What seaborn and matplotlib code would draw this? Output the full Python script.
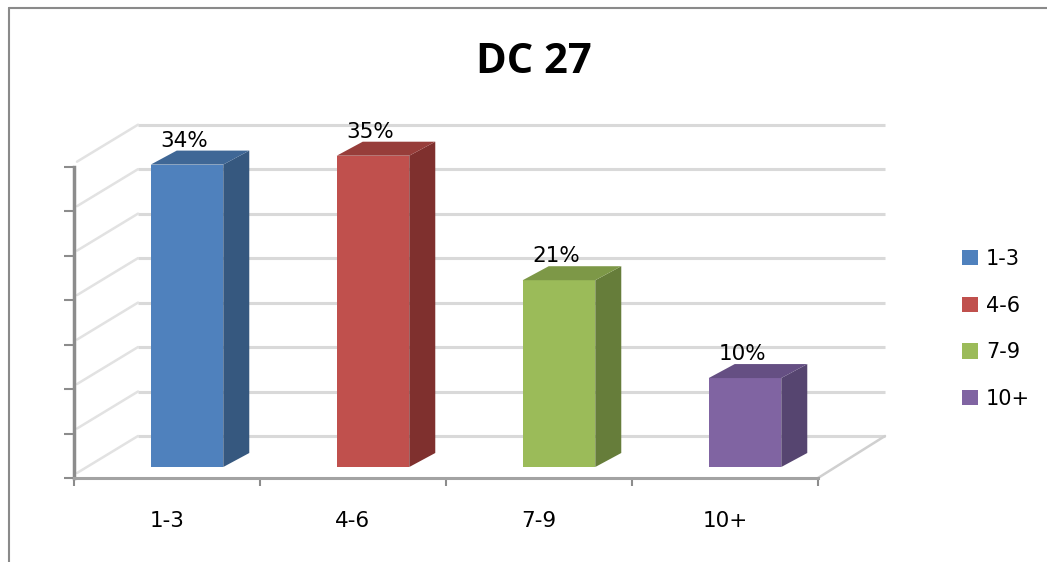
import pandas as pd
import matplotlib
matplotlib.use("Agg")
import matplotlib.pyplot as plt
import matplotlib.transforms as mtransforms
from matplotlib.patches import Polygon, Patch
from matplotlib.lines import Line2D
import seaborn as sns


# Chart data
categories = ["1-3", "4-6", "7-9", "10+"]
shares = [34, 35, 21, 10]
y_ticks = [0, 5, 10, 15, 20, 25, 30, 35]
front_colors = ["#4F81BD", "#C0504D", "#9BBB59", "#8064A2"]
side_colors = ["#36587F", "#7F302E", "#667D3A", "#564570"]
top_colors = ["#3F6796", "#973D3A", "#7D9847", "#654F83"]
title = "DC 27"


sns.set_theme(style="white")
plt.rcParams["font.family"] = ["DejaVu Sans"]
plt.rcParams["text.color"] = "black"
plt.rcParams["xtick.labelcolor"] = "black"

W, H = 1047, 562
fig = plt.figure(figsize=(W / 100, H / 100), dpi=100)

# front plane of the pseudo 3D box, in pixels
x0, x1, y0, y1 = 74, 818, 478, 166.7
ax = fig.add_axes([x0 / W, 1 - y0 / H, (x1 - x0) / W, (y0 - y1) / H])

df = pd.DataFrame({"size": categories, "share": shares})
sns.barplot(data=df, x="size", y="share", hue="size", palette=front_colors,
            saturation=1, width=0.39, legend=False, ax=ax, zorder=3)

ax.set_xlim(-0.5, 3.5)
ax.set_ylim(0, 35)
px_x = (x1 - x0) / 4
px_y = (y0 - y1) / 35


def shifted(dx, dy):
    return ax.transData + mtransforms.ScaledTranslation(dx / 100, dy / 100, fig.dpi_scale_trans)


# back wall and floor
wall_dx, wall_dy = 64 / px_x, 42 / px_y
x_end = -0.5 + (885 - x0) / px_x
grid_col = "#d9d9d9"
for t in y_ticks:
    ax.plot([-0.5 + wall_dx, x_end], [t + wall_dy, t + wall_dy], color=grid_col,
            lw=2.2, clip_on=False, zorder=1, solid_capstyle="butt")
    ax.plot([-0.5 + 3 / px_x, -0.5 + wall_dx], [t + 5 / px_y, t + wall_dy],
            color="#e2e2e2", lw=1.8, clip_on=False, zorder=1)
ax.plot([3.5, x_end], [0, wall_dy], color="#d0d0d0", lw=1.8, clip_on=False, zorder=1)

# bars: front faces from seaborn, side and top faces added
bar_tr = shifted(20, 11)
ddx, ddy = 26 / px_x, 14 / px_y
for i, p in enumerate(ax.patches):
    p.set_transform(bar_tr)
    p.set_linewidth(0)
    p.set_clip_on(False)
    bx, bw, h = p.get_x(), p.get_width(), p.get_height()
    side = Polygon([(bx + bw, 0), (bx + bw, h), (bx + bw + ddx, h + ddy), (bx + bw + ddx, ddy)],
                   closed=True, facecolor=side_colors[i], edgecolor="none",
                   transform=bar_tr, zorder=3, clip_on=False)
    top = Polygon([(bx, h), (bx + bw, h), (bx + bw + ddx, h + ddy), (bx + ddx, h + ddy)],
                  closed=True, facecolor=top_colors[i], edgecolor="none",
                  transform=bar_tr, zorder=3, clip_on=False)
    ax.add_patch(side)
    ax.add_patch(top)
    ax.text(bx + bw / 2 - 3 / px_x, h + 18 / px_y, f"{shares[i]}%", transform=bar_tr,
            ha="center", va="baseline", fontsize=15.5, color="black", zorder=5)

# axes styling
for s in ["top", "right"]:
    ax.spines[s].set_visible(False)
ax.spines["left"].set_color("#8c8c8c")
ax.spines["left"].set_linewidth(2.5)
ax.spines["bottom"].set_color("#a3a3a3")
ax.spines["bottom"].set_linewidth(2.2)
ax.set_yticks(y_ticks)
ax.set_yticklabels([])
ax.tick_params(axis="y", left=True, length=7, width=1.5, color="#8c8c8c", direction="out")
ax.set_xticks(range(len(categories)))
ax.set_xticklabels(categories, fontsize=15.5, color="black")
ax.set_xticks([-0.5, 0.5, 1.5, 2.5, 3.5], minor=True)
ax.tick_params(axis="x", which="major", length=0, pad=24)
ax.tick_params(axis="x", which="minor", bottom=True, length=6, width=1.5,
               color="#8c8c8c", direction="out")
ax.set_xlabel("")
ax.set_ylabel("")
ax.patch.set_alpha(0)

# legend
handles = [Patch(facecolor=c, edgecolor="none", label=l) for c, l in zip(front_colors, categories)]
fig.legend(handles=handles, loc="center left", bbox_to_anchor=(962 / W, 1 - 329 / H),
           frameon=False, fontsize=15, handlelength=0.75, handleheight=0.75,
           handletextpad=0.4, labelspacing=1.28, borderpad=0, borderaxespad=0,
           labelcolor="black")

# title and chart frame
fig.text(533.5 / W, 1 - 73 / H, title, ha="center", va="baseline", fontsize=30,
         fontweight="bold", family="Open Sans", color="black")
fig.add_artist(Line2D([9 / W, 9 / W], [0, 1 - 8 / H], transform=fig.transFigure,
                      color="#8a8a8a", lw=1.5))
fig.add_artist(Line2D([9 / W, 1], [1 - 8 / H, 1 - 8 / H], transform=fig.transFigure,
                      color="#8a8a8a", lw=1.5))

fig.savefig("out.png", dpi=100)
